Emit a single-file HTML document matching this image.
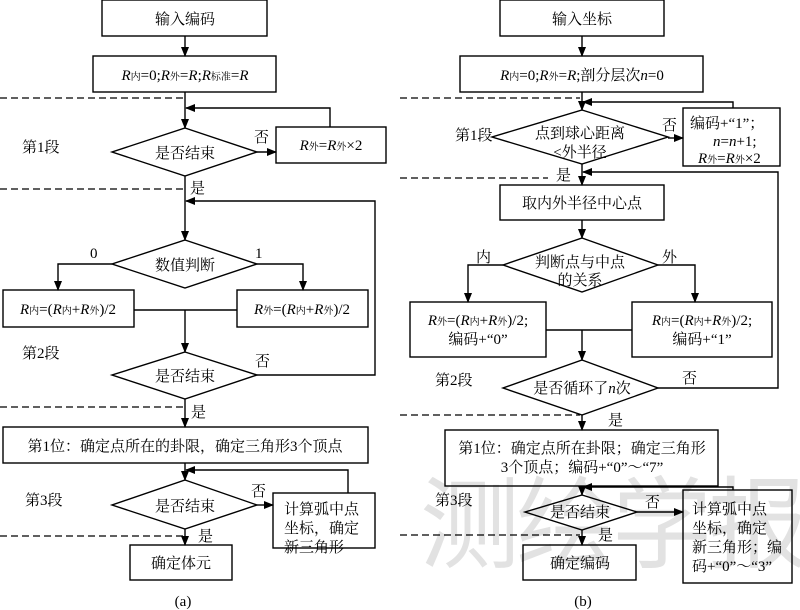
<html><body style="margin:0;background:#fff">
<svg width="800" height="610" viewBox="0 0 800 610" xmlns="http://www.w3.org/2000/svg" font-family="Liberation Serif, Noto Serif CJK SC, serif" font-size="15">
<defs><marker id="a" markerWidth="10" markerHeight="8" refX="9" refY="4" orient="auto" markerUnits="userSpaceOnUse"><path d="M0,0 L10,4 L0,8 z" fill="#000"/></marker></defs>
<text x="420" y="560" font-size="100" fill="#e2e2e2" font-family="Noto Sans CJK SC, sans-serif" letter-spacing="-4">测绘学报</text>
<g fill="none" stroke="#000" stroke-width="1.4">
<!-- (a) -->
<rect x="102" y="0" width="165" height="36"/>
<line x1="185" y1="36" x2="185" y2="56" marker-end="url(#a)"/>
<rect x="93" y="56" width="183" height="36"/>
<line x1="185" y1="92" x2="185" y2="128" marker-end="url(#a)"/>
<polyline points="330,127 330,108 186,108" marker-end="url(#a)"/>
<polygon points="185,128 257,152 185,176 112,152"/>
<line x1="257" y1="152" x2="276" y2="152" marker-end="url(#a)"/>
<rect x="276" y="127" width="110" height="36"/>
<line x1="185" y1="176" x2="185" y2="240" marker-end="url(#a)"/>
<polyline points="257,375 375,375 375,201 186,201" marker-end="url(#a)"/>
<polygon points="185,240 257,264 185,288 112,264"/>
<polyline points="112,264 58,264 58,290" marker-end="url(#a)"/>
<polyline points="257,264 303,264 303,290" marker-end="url(#a)"/>
<rect x="3" y="290" width="131" height="37"/>
<rect x="237" y="290" width="131" height="37"/>
<line x1="134" y1="310" x2="237" y2="310"/>
<line x1="185" y1="310" x2="185" y2="352" marker-end="url(#a)"/>
<polygon points="185,352 257,375 185,399 112,375"/>
<line x1="185" y1="399" x2="185" y2="427" marker-end="url(#a)"/>
<rect x="3" y="427" width="365" height="36"/>
<line x1="185" y1="463" x2="185" y2="480" marker-end="url(#a)"/>
<polyline points="348,493 348,470 186,470" marker-end="url(#a)"/>
<polygon points="185,480 257,505 185,529 112,505"/>
<line x1="257" y1="505" x2="273" y2="505" marker-end="url(#a)"/>
<rect x="273" y="493" width="102" height="55"/>
<line x1="185" y1="529" x2="185" y2="545" marker-end="url(#a)"/>
<rect x="130" y="545" width="102" height="35"/>
<!-- (b) -->
<rect x="500" y="0" width="164" height="36"/>
<line x1="582" y1="36" x2="582" y2="56" marker-end="url(#a)"/>
<rect x="460" y="56" width="243" height="36"/>
<line x1="582" y1="92" x2="582" y2="110" marker-end="url(#a)"/>
<polyline points="733,108 733,102 583,102" marker-end="url(#a)"/>
<polygon points="582,110 668,137 582,164 492,137"/>
<line x1="668" y1="138" x2="683" y2="138" marker-end="url(#a)"/>
<rect x="683" y="108" width="97" height="58"/>
<line x1="582" y1="164" x2="582" y2="185" marker-end="url(#a)"/>
<polyline points="658,388 778,388 778,172 583,172" marker-end="url(#a)"/>
<rect x="500" y="185" width="164" height="35"/>
<line x1="582" y1="220" x2="582" y2="238" marker-end="url(#a)"/>
<polygon points="582,238 658,265 582,292 503,265"/>
<polyline points="503,265 468,265 468,302" marker-end="url(#a)"/>
<polyline points="658,265 695,265 695,302" marker-end="url(#a)"/>
<rect x="410" y="302" width="136" height="55"/>
<rect x="632" y="302" width="140" height="55"/>
<line x1="546" y1="330" x2="632" y2="330"/>
<line x1="582" y1="330" x2="582" y2="360" marker-end="url(#a)"/>
<polygon points="582,360 658,388 582,415 503,388"/>
<line x1="582" y1="415" x2="582" y2="430" marker-end="url(#a)"/>
<rect x="445" y="430" width="273" height="56"/>
<line x1="582" y1="486" x2="582" y2="495" marker-end="url(#a)"/>
<polyline points="733,490 733,487 583,487" marker-end="url(#a)"/>
<polygon points="582,495 637,512 582,530 525,512"/>
<line x1="637" y1="512" x2="683" y2="512" marker-end="url(#a)"/>
<rect x="683" y="490" width="109" height="93"/>
<line x1="582" y1="530" x2="582" y2="545" marker-end="url(#a)"/>
<rect x="523" y="545" width="113" height="35"/>
</g>
<g stroke="#000" stroke-width="1.2" stroke-dasharray="7,4">
<line x1="0" y1="98" x2="183" y2="98"/><line x1="0" y1="189" x2="183" y2="189"/>
<line x1="0" y1="407" x2="183" y2="407"/><line x1="0" y1="536" x2="183" y2="536"/>
<line x1="400" y1="98" x2="580" y2="98"/><line x1="400" y1="178" x2="548" y2="178"/>
<line x1="400" y1="415" x2="580" y2="415"/><line x1="400" y1="535" x2="580" y2="535"/>
</g>
<g text-anchor="middle" fill="#000">
<text x="185" y="24">输入编码</text>
<text x="185" y="80"><tspan font-style="italic">R</tspan><tspan font-size="10">内</tspan>=0;<tspan font-style="italic">R</tspan><tspan font-size="10">外</tspan>=<tspan font-style="italic">R</tspan>;<tspan font-style="italic">R</tspan><tspan font-size="10">标准</tspan>=<tspan font-style="italic">R</tspan></text>
<text x="185" y="158">是否结束</text>
<text x="331" y="150"><tspan font-style="italic">R</tspan><tspan font-size="10">外</tspan>=<tspan font-style="italic">R</tspan><tspan font-size="10">外</tspan>×2</text>
<text x="185" y="270">数值判断</text>
<text x="68" y="314"><tspan font-style="italic">R</tspan><tspan font-size="10">内</tspan>=(<tspan font-style="italic">R</tspan><tspan font-size="10">内</tspan>+<tspan font-style="italic">R</tspan><tspan font-size="10">外</tspan>)/2</text>
<text x="302" y="314"><tspan font-style="italic">R</tspan><tspan font-size="10">外</tspan>=(<tspan font-style="italic">R</tspan><tspan font-size="10">内</tspan>+<tspan font-style="italic">R</tspan><tspan font-size="10">外</tspan>)/2</text>
<text x="185" y="381">是否结束</text>
<text x="185" y="451">第1位：确定点所在的卦限，确定三角形3个顶点</text>
<text x="185" y="511">是否结束</text>
<text x="181" y="568">确定体元</text>
<text x="183" y="606">(a)</text>
<text x="582" y="24">输入坐标</text>
<text x="582" y="80"><tspan font-style="italic">R</tspan><tspan font-size="10">内</tspan>=0;<tspan font-style="italic">R</tspan><tspan font-size="10">外</tspan>=<tspan font-style="italic">R</tspan>;剖分层次<tspan font-style="italic">n</tspan>=0</text>
<text x="580" y="138">点到球心距离</text>
<text x="580" y="157">&lt;外半径</text>
<text x="582" y="208">取内外半径中心点</text>
<text x="580" y="267">判断点与中点</text>
<text x="580" y="285">的关系</text>
<text x="478" y="325"><tspan font-style="italic">R</tspan><tspan font-size="10">外</tspan>=(<tspan font-style="italic">R</tspan><tspan font-size="10">内</tspan>+<tspan font-style="italic">R</tspan><tspan font-size="10">外</tspan>)/2;</text>
<text x="478" y="344">编码+“0”</text>
<text x="702" y="325"><tspan font-style="italic">R</tspan><tspan font-size="10">内</tspan>=(<tspan font-style="italic">R</tspan><tspan font-size="10">内</tspan>+<tspan font-style="italic">R</tspan><tspan font-size="10">外</tspan>)/2;</text>
<text x="702" y="344">编码+“1”</text>
<text x="582" y="393">是否循环了<tspan font-style="italic">n</tspan>次</text>
<text x="582" y="453">第1位：确定点所在卦限；确定三角形</text>
<text x="582" y="472">3个顶点；编码+“0”～“7”</text>
<text x="580" y="517">是否结束</text>
<text x="580" y="568">确定编码</text>
<text x="583" y="606">(b)</text>
</g>
<g fill="#000">
<text x="22" y="152">第1段</text><text x="22" y="358">第2段</text><text x="25" y="505">第3段</text>
<text x="455" y="140">第1段</text><text x="435" y="385">第2段</text><text x="435" y="505">第3段</text>
<text x="254" y="142">否</text><text x="190" y="193">是</text><text x="90" y="258">0</text><text x="255" y="258">1</text>
<text x="255" y="366">否</text><text x="191" y="417">是</text><text x="251" y="496">否</text><text x="198" y="541">是</text>
<text x="662" y="130">否</text><text x="556" y="180">是</text><text x="476" y="262">内</text><text x="662" y="262">外</text>
<text x="682" y="383">否</text><text x="608" y="425">是</text><text x="645" y="507">否</text><text x="598" y="540">是</text>
<text x="690" y="128">编码+“1”；</text><text x="713" y="146" font-style="italic">n<tspan font-style="normal">=</tspan>n<tspan font-style="normal">+1;</tspan></text>
<text x="698" y="163"><tspan font-style="italic">R</tspan><tspan font-size="10">外</tspan>=<tspan font-style="italic">R</tspan><tspan font-size="10">外</tspan>×2</text>
<text x="284" y="514">计算弧中点</text><text x="284" y="533">坐标，确定</text><text x="284" y="552">新三角形</text>
<text x="692" y="514">计算弧中点</text><text x="692" y="533">坐标，确定</text><text x="692" y="552">新三角形；编</text><text x="692" y="571">码+“0”～“3”</text>
</g>
</svg>
</body></html>
